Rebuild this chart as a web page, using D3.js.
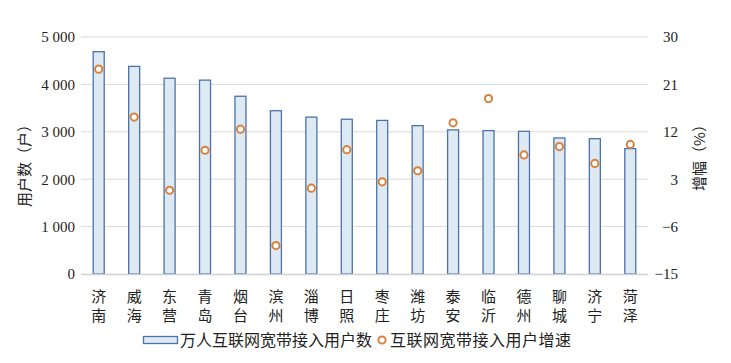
<!DOCTYPE html>
<html>
<head>
<meta charset="utf-8">
<script src="https://cdn.jsdelivr.net/npm/d3@7"></script>
<style>
  body { margin: 0; background: #fff; }
  text { font-family: "Liberation Serif", "Noto Sans CJK SC", serif; fill: #222; }
  .cn { font-family: "Noto Sans CJK SC", sans-serif; }
</style>
</head>
<body>
<svg id="chart" width="731" height="363"></svg>
<script>
'use strict'

// data
const cities = ['济南', '威海', '东营', '青岛', '烟台', '滨州', '淄博', '日照', '枣庄', '潍坊', '泰安', '临沂', '德州', '聊城', '济宁', '菏泽']
const users = [4690, 4380, 4130, 4090, 3750, 3445, 3310, 3265, 3240, 3130, 3040, 3025, 3010, 2870, 2855, 2645]
const growth = [23.9, 14.8, 0.9, 8.5, 12.5, -9.6, 1.3, 8.6, 2.5, 4.6, 13.7, 18.3, 7.6, 9.2, 6.0, 9.6]
const leftTicks = [0, 1000, 2000, 3000, 4000, 5000]
const rightTicks = [-15, -6, 3, 12, 21, 30]
const legendNames = ['万人互联网宽带接入用户数', '互联网宽带接入用户增速']

const plotLeft = 81, plotRight = 648, plotTop = 37, plotBottom = 274

const svg = d3.select('#chart')

const x = d3.scaleBand().domain(cities).range([plotLeft, plotRight])
const y = d3.scaleLinear().domain([0, 5000]).range([plotBottom, plotTop])
const y2 = d3.scaleLinear().domain([-15, 30]).range([plotBottom, plotTop])
const cx = d => x(d) + x.bandwidth() / 2

// gridlines
svg.append('g').selectAll('line')
  .data(leftTicks.slice(1))
  .enter().append('line')
    .attr('x1', plotLeft).attr('x2', plotRight)
    .attr('y1', d => y(d)).attr('y2', d => y(d))
    .attr('stroke', '#d9d9d9').attr('stroke-width', 1)

// left axis labels
const yAxis = svg.append('g')
  .attr('transform', 'translate(' + (plotLeft - 6) + ',0)')
  .call(d3.axisLeft(y).tickValues(leftTicks).tickSize(0).tickPadding(0)
    .tickFormat(d => d3.format(',')(d).replace(',', ' ')))
yAxis.select('.domain').remove()
yAxis.selectAll('text').style('font-size', '15px').attr('fill', '#222')

// right axis labels
const y2Axis = svg.append('g')
  .attr('transform', 'translate(678,0)')
  .call(d3.axisLeft(y2).tickValues(rightTicks).tickSize(0).tickPadding(0)
    .tickFormat(d => d < 0 ? '\u2212' + Math.abs(d) : d))
y2Axis.select('.domain').remove()
y2Axis.selectAll('text').style('font-size', '15px').attr('fill', '#222')

// bars
const barW = 11
svg.append('g').selectAll('rect')
  .data(users)
  .enter().append('rect')
    .attr('x', (d, i) => cx(cities[i]) - barW / 2)
    .attr('y', d => y(d))
    .attr('width', barW)
    .attr('height', d => plotBottom - y(d))
    .attr('fill', '#dde9f3')
    .attr('stroke', '#4d72aa')
    .attr('stroke-width', 1.3)

// bottom axis line
svg.append('line')
  .attr('x1', plotLeft).attr('x2', plotRight)
  .attr('y1', plotBottom + 0.5).attr('y2', plotBottom + 0.5)
  .attr('stroke', '#d0d0d0').attr('stroke-width', 1.5)

// growth dots
svg.append('g').selectAll('circle')
  .data(growth)
  .enter().append('circle')
    .attr('cx', (d, i) => cx(cities[i]))
    .attr('cy', d => y2(d))
    .attr('r', 3.6)
    .attr('fill', '#fff')
    .attr('stroke', '#d8823c')
    .attr('stroke-width', 2)

// category labels, written vertically (two chars stacked)
svg.append('g').selectAll('text')
  .data(cities)
  .enter().append('text')
    .attr('class', 'cn')
    .attr('x', cx).attr('y', 289)
    .style('writing-mode', 'vertical-rl')
    .style('letter-spacing', '3.5px')
    .style('font-size', '15px')
    .text(d => d)

// axis titles
svg.append('text')
  .attr('class', 'cn')
  .attr('transform', 'translate(30,162) rotate(-90)')
  .attr('text-anchor', 'middle')
  .style('font-size', '15px')
  .text('用户数（户）')

svg.append('text')
  .attr('class', 'cn')
  .attr('transform', 'translate(705,154) rotate(-90)')
  .attr('text-anchor', 'middle')
  .style('font-size', '15px')
  .text('增幅（%）')

// legend
const lg = svg.append('g')
lg.append('rect')
  .attr('x', 143.5).attr('y', 336.5).attr('width', 34).attr('height', 7)
  .attr('fill', '#dde9f3').attr('stroke', '#4d72aa').attr('stroke-width', 1.3)
lg.append('text').attr('class', 'cn')
  .attr('x', 180).attr('y', 346)
  .style('font-size', '16px')
  .text(legendNames[0])
lg.append('circle')
  .attr('cx', 382).attr('cy', 340).attr('r', 3.6)
  .attr('fill', '#fff').attr('stroke', '#d8823c').attr('stroke-width', 2)
lg.append('text').attr('class', 'cn')
  .attr('x', 390).attr('y', 346)
  .style('font-size', '16px')
  .style('letter-spacing', '0.5px')
  .text(legendNames[1])
</script>
</body>
</html>
